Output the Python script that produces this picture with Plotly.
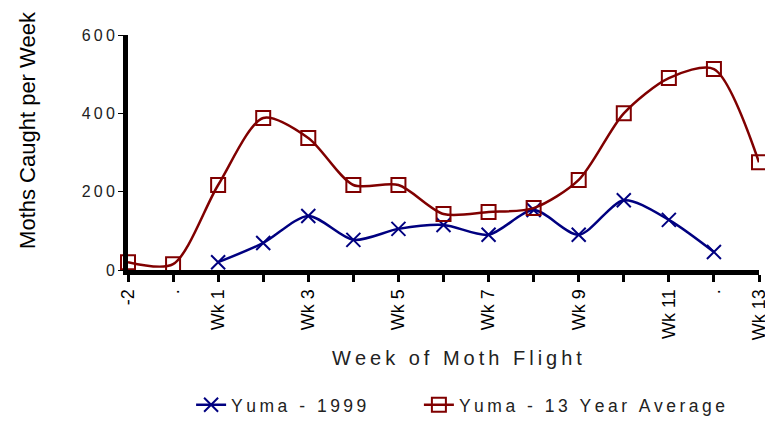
import plotly.graph_objects as go

# weeks of moth flight (only odd weeks get a label)
weeks = ['-2', '-1', 'Wk 1', 'Wk 2', 'Wk 3', 'Wk 4', 'Wk 5', 'Wk 6',
         'Wk 7', 'Wk 8', 'Wk 9', 'Wk 10', 'Wk 11', 'Wk 12', 'Wk 13']
tick_labels = ['-2', '.', 'Wk 1', '', 'Wk 3', '', 'Wk 5', '',
               'Wk 7', '', 'Wk 9', '', 'Wk 11', '.', 'Wk 13']
y_ticks = [0, 200, 400, 600]

# moths caught per week
yuma_1999 = [None, None, 20, 69, 138, 77, 105, 115, 90, 153, 90, 178, 128, 46, None]
yuma_avg = [20, 15, 217, 388, 337, 217, 217, 143, 148, 158, 230, 400, 490, 513, 275]


# the original chart uses wide letter spacing, so we put thin spaces between letters
def spaced(s):
    return '\u2009'.join(s)


fig = go.Figure()

fig.add_trace(go.Scatter(
    x=weeks, y=yuma_1999, name=spaced('Yuma - 1999'),
    mode='lines+markers',
    line=dict(color='#000080', width=2.5, shape='spline', smoothing=0.8),
    marker=dict(symbol='x-thin', size=14, line=dict(color='#000080', width=2)),
    cliponaxis=False, legend='legend',
))

fig.add_trace(go.Scatter(
    x=weeks, y=yuma_avg, name=spaced('Yuma - 13 Year Average'),
    mode='lines+markers',
    line=dict(color='#800000', width=2.5, shape='spline', smoothing=0.8),
    marker=dict(symbol='square-open', size=14, color='#800000',
                line=dict(color='#800000', width=2)),
    cliponaxis=False, legend='legend2',
))

# the page body has an 8px margin, so the figure is 8px smaller than the window
leg_font = dict(size=17.5, color='#222')
fig.update_layout(
    width=765, height=413,
    margin=dict(l=120, r=14, t=27, b=151, autoexpand=False),
    plot_bgcolor='white',
    paper_bgcolor='white',
    font=dict(family='Arial, Liberation Sans, sans-serif', size=15, color='#222'),
    showlegend=True,
    legend=dict(orientation='h', x=0.1, xanchor='left', y=-0.574, yanchor='middle', font=leg_font),
    legend2=dict(orientation='h', x=0.461, xanchor='left', y=-0.574, yanchor='middle', font=leg_font),
)

# axis titles as annotations so they sit where the original has them
fig.add_annotation(text=spaced('Week of Moth Flight'), xref='paper', yref='paper',
                   x=0.521, y=-0.374, xanchor='center', yanchor='middle', showarrow=False,
                   font=dict(size=20, color='#222'))
fig.add_annotation(text='Moths Caught per Week', xref='paper', yref='paper',
                   x=-0.1585, y=0.596, xanchor='center', yanchor='middle', showarrow=False,
                   textangle=-90, font=dict(size=22, color='black'))

fig.update_xaxes(
    type='category',
    range=[0, 14],
    tickvals=weeks,
    ticktext=tick_labels,
    tickangle=-90,
    automargin=False,
    tickfont=dict(size=18, color='black'),
    showline=True, linecolor='black', linewidth=5,
    ticks='outside', ticklen=7, tickwidth=3, tickcolor='black',
    showgrid=False, zeroline=False,
)

fig.update_yaxes(
    range=[0, 600],
    tickvals=y_ticks,
    ticktext=[spaced(str(v)) for v in y_ticks],
    automargin=False,
    tickfont=dict(size=16, color='#222'),
    showline=True, linecolor='black', linewidth=5,
    ticks='outside', ticklen=5, tickwidth=1, tickcolor='black',
    showgrid=False, zeroline=False,
)

fig.write_html('out.html')
